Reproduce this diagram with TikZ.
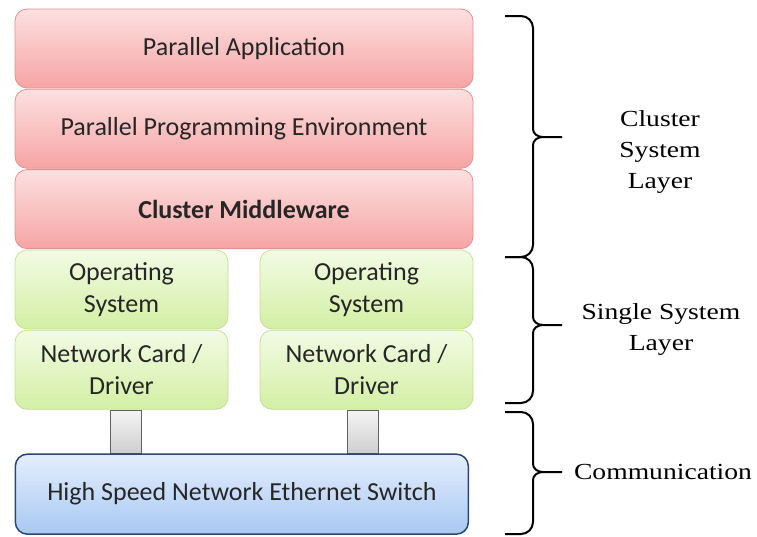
\documentclass[tikz,border=0pt]{standalone}
\usepackage{fontspec}
\setmainfont{Carlito}
\newfontfamily\labelfont[FakeStretch=1.2]{Liberation Serif}
\usetikzlibrary{positioning}
\definecolor{redtop}{HTML}{FDE0E0}
\definecolor{redbot}{HTML}{F6A4A4}
\definecolor{redline}{HTML}{E39090}
\definecolor{greentop}{HTML}{F2FBE4}
\definecolor{greenbot}{HTML}{D3EFA4}
\definecolor{greenline}{HTML}{C4DE98}
\definecolor{bluetop}{HTML}{E4EEFD}
\definecolor{bluebot}{HTML}{A8C8F3}
\definecolor{blueline}{HTML}{2B4670}

\begin{document}
\begin{tikzpicture}[x=1pt, y=-1pt,
  node distance=0.5pt,
  boxtext/.style={align=center, text=black!85, font=\fontsize{26}{32}\selectfont, inner sep=0pt},
  clusterbox/.style={boxtext, draw=redline, top color=redtop, bottom color=redbot, rounded corners=12pt, minimum width=458pt, minimum height=79pt, line width=0.8pt},
  nodebox/.style={boxtext, draw=greenline, top color=greentop, bottom color=greenbot, rounded corners=12pt, minimum width=213pt, minimum height=79pt, line width=0.8pt},
  netbox/.style={boxtext, draw=blueline, top color=bluetop, bottom color=bluebot, rounded corners=12pt, minimum width=453pt, minimum height=80pt, line width=1.5pt},
  linkbox/.style={draw=gray!75!black, top color=gray!8, bottom color=gray!38, minimum width=31pt, minimum height=43pt, inner sep=0pt, line width=0.8pt},
  layerlabel/.style={align=center, text=black, font=\labelfont\fontsize{23}{31}\selectfont, inner sep=0pt},
  bracepath/.style={draw=black, line width=2pt}
]
\useasboundingbox (0,0) rectangle (757,536);

% Cluster-Ebene
\node[clusterbox] (app) at (244,48.5) {Parallel Application};
\node[clusterbox, below=of app] (ppe) {Parallel Programming Environment};
\node[clusterbox, below=of ppe] (mid) {\bfseries Cluster Middleware};

% Einzelsysteme
\node[nodebox, anchor=north west] (osL) at ([yshift=-0.5pt]mid.south west) {Operating\\System};
\node[nodebox, below=of osL] (nicL) {Network Card /\\Driver};
\node[nodebox, anchor=north east] (osR) at ([yshift=-0.5pt]mid.south east) {Operating\\System};
\node[nodebox, below=of osR] (nicR) {Network Card /\\Driver};

% Verbindungen zum Switch
\node[linkbox, below=0pt of nicL, xshift=4pt] (linkL) {};
\node[linkbox, below=0pt of nicR, xshift=-3.5pt] (linkR) {};
\node[netbox, anchor=north west] (switch) at (nicL.south west |- linkL.south) {High Speed Network Ethernet Switch};

% Klammern
\foreach \ya/\yb/\ym in {16/257/137, 257/403/325, 412/534/472}
  \path[bracepath] (505,\ya) -- (521,\ya) to[out=0,in=90] (533,\ya+12) -- (533,\ym-8)
    to[out=-90,in=180] (543,\ym) -- (562,\ym)
    (543,\ym) to[out=180,in=90] (533,\ym+8) -- (533,\yb-12) to[out=-90,in=0] (521,\yb) -- (505,\yb);

\node[layerlabel] (lblCluster) at (660,152) {Cluster\\System\\Layer};
\node[layerlabel] (lblSingle) at (661,329) {Single System\\Layer};
\node[layerlabel] (lblComm) at (663,472) {Communication};
\end{tikzpicture}
\end{document}
